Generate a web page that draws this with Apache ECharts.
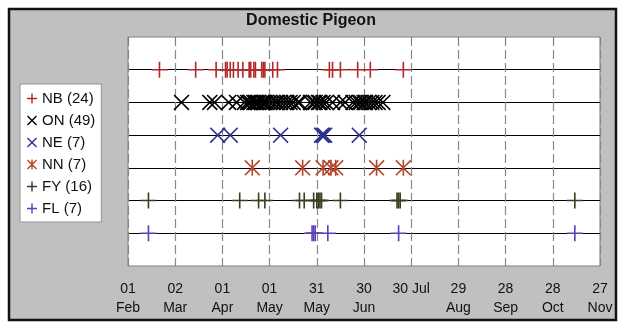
<!DOCTYPE html>
<html>
<head>
<meta charset="utf-8">
<script src="https://cdn.jsdelivr.net/npm/echarts@6/dist/echarts.min.js"></script>
<style>
  html, body { margin: 0; padding: 0; background: #fff; }
  #chart { width: 622px; height: 322px; }
</style>
</head>
<body>
<div id="chart"></div>
<script>
// x values are days after 01 Feb (leap year, ticks every 30 days)
const tickLabels = ['01\nFeb', '02\nMar', '01\nApr', '01\nMay', '31\nMay', '30\nJun', '30 Jul', '29\nAug', '28\nSep', '28\nOct', '27\nNov'];
const seriesNames = ['NB (24)', 'ON (49)', 'NE (7)', 'NN (7)', 'FY (16)', 'FL (7)'];
const rowIndex = [1, 2, 3, 4, 5, 6];

const nbDays = [20, 43, 56, 62, 63, 65, 67, 70, 73, 77, 78, 80, 81, 85, 86, 87, 92, 95, 128, 130, 135, 146, 154, 175];
const onDays = [34, 52, 55, 64, 69, 74, 76, 77, 78, 80, 81, 82, 83, 85, 86, 87, 88, 90, 92, 94, 95, 97, 99, 101, 103,
  105, 108, 109, 116, 118, 119, 121, 122, 124, 126, 130, 135, 138, 143, 145, 147, 148, 150, 151, 153, 155, 157, 159, 162];
const neDays = [57, 65, 97, 123, 124, 125, 147];
const nnDays = [79, 111, 124, 129, 132, 158, 175];
const fyDays = [13, 71, 83, 87, 109, 112, 118, 120, 121, 122, 123, 135, 171, 172, 173, 284];
const flDays = [13, 117, 118, 119, 127, 172, 284];

const allDays = [nbDays, onDays, neDays, nnDays, fyDays, flDays];
const colors = ['#b0282a', '#000000', '#2e3192', '#b5452a', '#3a3d1e', '#5a3fb5'];

// thin filled outlines in a 10x10 box
function f(n) { return +n.toFixed(2); }
function plusPath(t) {
  const a = f(5 - t / 2);
  return `path://M${a},0h${t}v${a}h${a}v${t}h${-a}v${a}h${-t}v${-a}h${-a}v${-t}h${a}z`;
}
function crossD(t) {
  const d = f(t / Math.SQRT2);
  return `M0,${d}L${d},0L5,${f(5 - d)}L${f(10 - d)},0L10,${d}L${f(5 + d)},5L10,${f(10 - d)}` +
    `L${f(10 - d)},10L5,${f(5 + d)}L${d},10L0,${f(10 - d)}L${f(5 - d)},5Z`;
}
function crossPath(t) { return 'path://' + crossD(t); }
function starPath(t) { return 'path://' + crossD(t) + `M${f(5 - t / 2)},0h${t}v10h${-t}z`; }

const markers = [plusPath(1.0), crossPath(1.0), crossPath(1.0), starPath(1.0), plusPath(1.0), plusPath(1.0)];
const legendIcons = [plusPath(1.4), crossPath(1.4), crossPath(1.4), starPath(1.4), plusPath(1.4), plusPath(1.4)];
const markerSizes = [16, 16, 16, 16, 16, 16];

const chart = echarts.init(document.getElementById('chart'));

const option = {
  animation: false,
  graphic: {
    elements: [{
      type: 'rect',
      z: -100,
      silent: true,
      shape: { x: 9, y: 9, width: 607, height: 311 },
      style: { fill: '#c0c0c0', stroke: '#111', lineWidth: 2.5 },
    }],
  },
  title: {
    text: 'Domestic Pigeon',
    left: 'center',
    top: 8,
    textStyle: { fontFamily: 'Liberation Sans', fontSize: 16, fontWeight: 'bold', color: '#111' },
  },
  legend: {
    orient: 'vertical',
    left: 20,
    top: 84,
    padding: [7, 6, 6, 7],
    itemGap: 7,
    itemWidth: 10,
    itemHeight: 10,
    backgroundColor: '#fff',
    borderColor: '#909090',
    borderWidth: 1,
    textStyle: { fontFamily: 'Liberation Sans', fontSize: 15, color: '#111' },
    data: seriesNames.map((name, i) => ({ name, icon: legendIcons[i] })),
  },
  grid: {
    left: 128,
    right: 22,
    top: 37,
    bottom: 56,
    show: true,
    backgroundColor: '#fff',
    borderColor: '#808080',
    borderWidth: 1,
  },
  xAxis: {
    type: 'value',
    min: 0,
    max: 300,
    interval: 30,
    axisLine: { show: false },
    axisTick: { show: true, length: 6, lineStyle: { color: '#808080' } },
    axisLabel: {
      margin: 14,
      fontFamily: 'Liberation Sans',
      fontSize: 14,
      lineHeight: 19,
      color: '#111',
      formatter: (v) => tickLabels[Math.round(v / 30)],
    },
    splitLine: { show: true, lineStyle: { color: '#888', type: [9, 4], width: 1.2 } },
  },
  yAxis: {
    type: 'value',
    inverse: true,
    min: 0,
    max: 7,
    interval: 1,
    axisLine: { show: false },
    axisTick: { show: false },
    axisLabel: { show: false },
    splitLine: {
      show: true,
      lineStyle: {
        color: ['transparent', '#000', '#000', '#000', '#000', '#000', '#000', 'transparent'],
        width: 1.2,
      },
    },
  },
  series: allDays.map((days, i) => ({
    name: seriesNames[i],
    type: 'scatter',
    symbol: markers[i],
    symbolSize: markerSizes[i],
    itemStyle: { color: colors[i], opacity: 1 },
    data: days.map((d) => [d, rowIndex[i]]),
  })),
};

chart.setOption(option);
</script>
</body>
</html>
